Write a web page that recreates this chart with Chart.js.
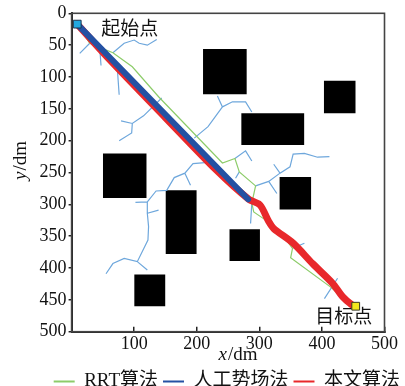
<!DOCTYPE html>
<html><head><meta charset="utf-8">
<script src="https://cdn.jsdelivr.net/npm/chart.js@4.4.1/dist/chart.umd.min.js"></script>
<style>html,body{margin:0;padding:0;background:#fff}#wrap{width:405px;height:386px}</style>
</head><body><div id="wrap"><canvas id="c" width="405" height="386"></canvas></div>
<script>
// ---- data (dm) ----
const seriesLabels = ['RRT算法', '人工势场法', '本文算法'];
const xTicksMax = 500, xStep = 100, yTicksMax = 500, yStep = 50;
const startPoint = [9, 17];
const goalPoint = [454, 460];
const rrtPath = [[9,17],[29,47],[66,62],[97,84],[139,131],[241,235],[261,228],[268,249],[294,271],[288,298],[291,312],[309,324],[343,356],[353,369],[350,384],[414,430],[430,444],[454,460]];
const apfPath = [[9,17],[282,292]];
const ourPath = [[9,17],[60,72],[150,164],[230,245],[283,292],[301,301],[315,327],[323,338],[354,361],[385,393],[417,424],[433,445],[448,458],[454,460]];
const treeBranches = [
  [[13,63],[29,47]],
  [[45,55],[47,82]],
  [[66,62],[84,47],[100,42],[108,47],[121,50],[136,41]],
  [[73,86],[76,128]],
  [[144,133],[115,161],[97,173],[79,169]],
  [[97,173],[96,188],[76,200]],
  [[218,234],[194,236],[181,251],[164,258],[152,278],[135,279],[121,296],[102,297]],
  [[121,296],[121,314],[139,309]],
  [[121,314],[123,335],[122,356],[105,390],[84,385],[66,393],[55,409]],
  [[105,390],[121,403]],
  [[181,251],[190,270]],
  [[196,196],[218,178],[241,147],[233,130]],
  [[241,147],[257,139],[278,139],[288,155]],
  [[261,228],[278,216],[288,232]],
  [[268,249],[262,259]],
  [[294,271],[315,264],[333,251],[349,241],[354,221],[372,220],[393,226],[412,225]],
  [[333,251],[323,237]],
  [[315,264],[328,283]],
  [[288,298],[286,330]],
  [[353,369],[372,361]],
  [[404,448],[425,416]]
];
// obstacles: [x1, x2, y1, y2]
const obstacles = [
  [50,120,220,290],
  [150,200,278,378],
  [100,150,410,460],
  [210,280,56,127],
  [403,454,106,157],
  [271,372,157,207],
  [332,383,257,308],
  [252,301,339,389]
];
const pointLabels = [
  {text: '起始点', x: 93, y: 26},
  {text: '目标点', x: 435, y: 478}
];
const xTitle = ['x', '/dm'];
const yTitle = ['y', '/dm'];

// ---- build ----
const SERIF = '"Liberation Serif","Noto Sans CJK SC",serif';
const toXY = arr => arr.map(p => ({x: p[0], y: p[1]}));
const treeData = [];
treeBranches.forEach(b => { b.forEach(p => treeData.push({x: p[0], y: p[1]})); treeData.push({x: null, y: null}); });

const datasets = [
  {label: seriesLabels[0], data: toXY(rrtPath), borderColor: '#8dcc6a', borderWidth: 1.2, pointRadius: 0, order: 3},
  {label: seriesLabels[1], data: toXY(apfPath), borderColor: '#2451a3', borderWidth: 6, pointRadius: 0, borderCapStyle: 'round', order: 1},
  {label: seriesLabels[2], data: toXY(ourPath), borderColor: '#e8282b', borderWidth: 7, pointRadius: 0, borderCapStyle: 'round', borderJoinStyle: 'round', tension: 0.3, order: 2},
  {label: 'tree', data: treeData, borderColor: '#6ea7dc', borderWidth: 1.2, pointRadius: 0, spanGaps: false, order: 4},
  {label: 'start', data: [{x: startPoint[0], y: startPoint[1]}], showLine: false, pointStyle: 'rect', pointRadius: 5.5, backgroundColor: '#23a8e0', borderColor: '#1d3550', borderWidth: 1, order: 0},
  {label: 'goal', data: [{x: goalPoint[0], y: goalPoint[1]}], showLine: false, pointStyle: 'rect', pointRadius: 5.5, backgroundColor: '#f3e81c', borderColor: '#3a3a20', borderWidth: 1, order: 0}
];
obstacles.forEach((o, i) => datasets.push({
  label: 'obs' + i, data: [{x: o[0], y: o[2]}, {x: o[1], y: o[2]}],
  borderWidth: 0, pointRadius: 0, backgroundColor: '#000', fill: {target: {value: o[3]}}, order: 5
}));

const PLOT_LEFT = 71.6, PLOT_RIGHT_GAP = 15.4, PLOT_BOTTOM = 331.7;

const framePlugin = {
  id: 'frame',
  afterDraw(chart) {
    const {ctx, chartArea: a} = chart;
    ctx.save();
    ctx.strokeStyle = '#444'; ctx.lineWidth = 1.6;
    ctx.strokeRect(a.left, a.top, a.right - a.left, a.bottom - a.top);
    ctx.fillStyle = '#111';
    ctx.font = '19px ' + SERIF;
    ctx.textAlign = 'center'; ctx.textBaseline = 'middle';
    pointLabels.forEach(l => ctx.fillText(l.text, chart.scales.x.getPixelForValue(l.x), chart.scales.y.getPixelForValue(l.y)));
    const drawTitle = (parts, cx, cy, rot) => {
      ctx.save(); ctx.translate(cx, cy); ctx.rotate(rot);
      ctx.textAlign = 'left'; ctx.textBaseline = 'middle';
      ctx.font = 'italic 19px ' + SERIF; const w1 = ctx.measureText(parts[0]).width;
      ctx.font = '19px ' + SERIF; const w2 = ctx.measureText(parts[1]).width;
      const x0 = -(w1 + w2) / 2;
      ctx.font = 'italic 19px ' + SERIF; ctx.fillText(parts[0], x0, 0);
      ctx.font = '19px ' + SERIF; ctx.fillText(parts[1], x0 + w1 + 1, 0);
      ctx.restore();
    };
    drawTitle(xTitle, 237.5, 355, 0);
    drawTitle(yTitle, 21, 161, -Math.PI / 2);
    ctx.restore();
  }
};

new Chart(document.getElementById('c'), {
  type: 'line',
  data: {datasets},
  options: {
    responsive: false, animation: false, events: [],
    layout: {padding: {top: 13.3, left: 0, right: 0, bottom: 0}},
    plugins: {
      tooltip: {enabled: false},
      legend: {
        position: 'bottom', align: 'end', maxHeight: 19,
        labels: {
          boxWidth: 21, boxHeight: 2, padding: 5, color: '#111',
          font: {family: SERIF, size: 19},
          generateLabels: chart => [0, 1, 2].map(i => {
            const ds = chart.data.datasets[i];
            return {text: ds.label, fillStyle: ds.borderColor, strokeStyle: ds.borderColor, lineWidth: 0, hidden: false, datasetIndex: i, fontColor: '#111'};
          })
        }
      }
    },
    scales: {
      x: {
        type: 'linear', min: 0, max: xTicksMax,
        ticks: {stepSize: xStep, padding: 7, color: '#111', font: {family: SERIF, size: 18}, maxRotation: 0,
          callback: v => v === 0 ? '' : v},
        grid: {drawOnChartArea: false, tickLength: -5, color: '#222', lineWidth: 1.5},
        border: {display: true, color: '#222', width: 2},
        afterFit: s => { s.height = s.chart.height - PLOT_BOTTOM - s.chart.legend.height; }
      },
      y: {
        type: 'linear', reverse: true, min: 0, max: yTicksMax,
        ticks: {stepSize: yStep, padding: 2, color: '#111', font: {family: SERIF, size: 18}},
        grid: {drawOnChartArea: false, tickLength: 3, color: '#222', lineWidth: 1.5},
        border: {display: true, color: '#222', width: 2},
        afterFit: s => { s.width = PLOT_LEFT; }
      },
      y2: {
        type: 'linear', position: 'right', display: true,
        ticks: {display: false}, grid: {display: false}, border: {display: false},
        afterFit: s => { s.width = PLOT_RIGHT_GAP; }
      }
    }
  },
  plugins: [framePlugin]
});
</script>
</body></html>
